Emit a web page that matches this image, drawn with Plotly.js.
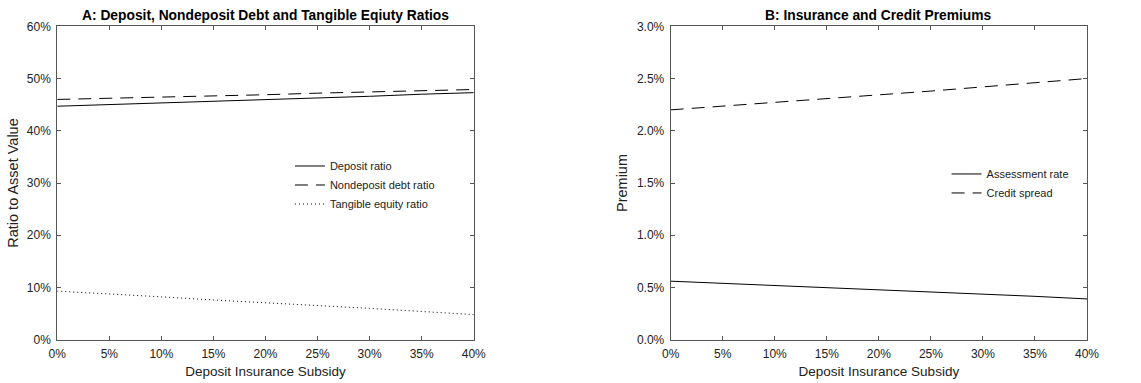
<!DOCTYPE html>
<html>
<head>
<meta charset="utf-8">
<script src="https://cdn.plot.ly/plotly-3.0.1.min.js"></script>
<style>
  html, body { margin: 0; padding: 0; background: #fff; }
  #chart { width: 1141px; height: 383px; }
</style>
</head>
<body>
<div id="chart"></div>
<script>
// Deposit insurance subsidy (%)
const subsidy = [0, 5, 10, 15, 20, 25, 30, 35, 40];

// Panel A: ratios to asset value (%)
const depositRatio      = [44.7, 45.0, 45.3, 45.7, 46.0, 46.3, 46.6, 47.0, 47.3];
const nondepositRatio   = [46.0, 46.2, 46.5, 46.7, 46.9, 47.2, 47.4, 47.6, 47.9];
const tangibleEquity    = [9.3, 8.8, 8.2, 7.6, 7.1, 6.5, 6.0, 5.4, 4.8];

// Panel B: premiums (%)
const assessmentRate    = [0.56, 0.54, 0.52, 0.50, 0.48, 0.46, 0.44, 0.415, 0.39];
const creditSpread      = [2.20, 2.235, 2.27, 2.31, 2.345, 2.38, 2.42, 2.46, 2.50];

// Shared x-axis tick labels
const xTicks = [0, 5, 10, 15, 20, 25, 30, 35, 40];
const xTickText = ['0%', '5%', '10%', '15%', '20%', '25%', '30%', '35%', '40%'];

const FONT = 'Liberation Sans, Arial, Helvetica, sans-serif';
const frame = '#555';

function lineTrace(y, name, dash, xa, ya, legend) {
  return {
    x: subsidy, y: y, name: name, type: 'scatter', mode: 'lines',
    line: { color: '#000', width: 1, dash: dash },
    xaxis: xa, yaxis: ya, legend: legend
  };
}

const data = [
  lineTrace(depositRatio, 'Deposit ratio', 'solid', 'x', 'y', 'legend'),
  lineTrace(nondepositRatio, 'Nondeposit debt ratio', '13px,8px', 'x', 'y', 'legend'),
  lineTrace(tangibleEquity, 'Tangible equity ratio', '1px,3px', 'x', 'y', 'legend'),
  lineTrace(assessmentRate, 'Assessment rate', 'solid', 'x2', 'y2', 'legend2'),
  lineTrace(creditSpread, 'Credit spread', '13px,8px', 'x2', 'y2', 'legend2')
];

function xAxis(domain, anchor) {
  return {
    domain: domain, anchor: anchor, range: [0, 40],
    tickmode: 'array', tickvals: xTicks, ticktext: xTickText,
    ticks: 'inside', ticklen: 4, tickcolor: frame, tickwidth: 1,
    ticklabelstandoff: 3,
    showline: true, linecolor: frame, linewidth: 1, mirror: 'ticks',
    showgrid: false, zeroline: false,
    tickfont: { family: FONT, size: 12, color: '#222' },
    title: { text: 'Deposit Insurance Subsidy', standoff: 6,
             font: { family: FONT, size: 13.5, color: '#222' } }
  };
}

function yAxis(domain, anchor, range, dtick, fmt, title, standoff) {
  return {
    domain: domain, anchor: anchor, range: range, dtick: dtick, tick0: 0,
    tickformat: fmt, ticksuffix: '%',
    ticks: 'inside', ticklen: 4, tickcolor: frame, tickwidth: 1,
    ticklabelstandoff: 3,
    showline: true, linecolor: frame, linewidth: 1, mirror: 'ticks',
    showgrid: false, zeroline: false,
    tickfont: { family: FONT, size: 12, color: '#222' },
    title: { text: title, standoff: standoff,
             font: { family: FONT, size: 14.5, color: '#222' } }
  };
}

const yDom = [0.1131, 0.9313];

const layout = {
  width: 1141, height: 383,
  margin: { l: 0, r: 0, t: 0, b: 0 },
  paper_bgcolor: '#fff', plot_bgcolor: '#fff',
  font: { family: FONT, color: '#222' },
  showlegend: true,
  xaxis: xAxis([0.0502, 0.4152], 'y'),
  yaxis: yAxis(yDom, 'x', [0, 60], 10, 'd', 'Ratio to Asset Value', 4),
  xaxis2: xAxis([0.5878, 0.9527], 'y2'),
  yaxis2: yAxis(yDom, 'x2', [0, 3], 0.5, '.1f', 'Premium', 5),
  legend: {
    x: 0.2541, y: 0.517, xanchor: 'left', yanchor: 'middle',
    bgcolor: 'rgba(0,0,0,0)', borderwidth: 0,
    font: { family: FONT, size: 11, color: '#222' },
    tracegroupgap: 0, itemwidth: 30
  },
  legend2: {
    x: 0.8296, y: 0.521, xanchor: 'left', yanchor: 'middle',
    bgcolor: 'rgba(0,0,0,0)', borderwidth: 0,
    font: { family: FONT, size: 11, color: '#222' },
    tracegroupgap: 0, itemwidth: 30
  },
  annotations: [
    { text: '<b>A: Deposit, Nondeposit Debt and Tangible Eqiuty Ratios</b>',
      xref: 'paper', yref: 'paper', x: 0.2327, y: 1 - 16 / 383,
      xanchor: 'center', yanchor: 'middle', showarrow: false,
      font: { family: FONT, size: 13.8, color: '#000' } },
    { text: '<b>B: Insurance and Credit Premiums</b>',
      xref: 'paper', yref: 'paper', x: 0.7703, y: 1 - 16 / 383,
      xanchor: 'center', yanchor: 'middle', showarrow: false,
      font: { family: FONT, size: 13.8, color: '#000' } }
  ]
};

Plotly.newPlot('chart', data, layout, { staticPlot: true, displayModeBar: false });
</script>
</body>
</html>
